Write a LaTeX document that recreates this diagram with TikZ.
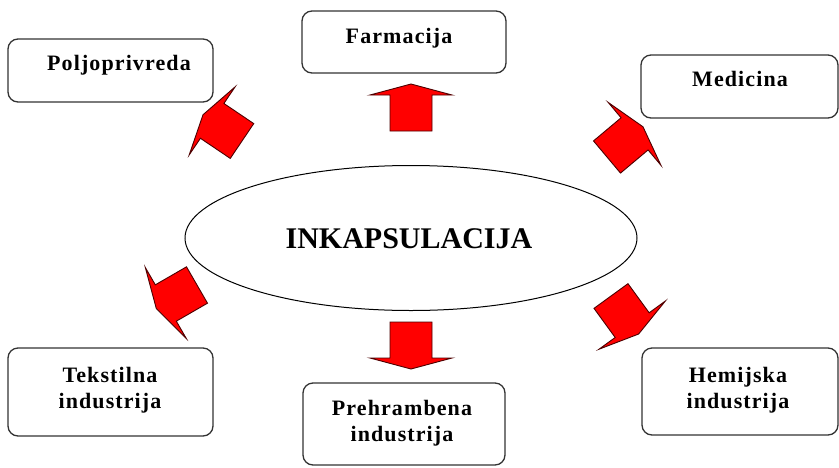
\documentclass[tikz,border=0pt]{standalone}
\usepackage{fontspec}
\setmainfont{Liberation Serif}
\usetikzlibrary{shapes.geometric}
\tikzset{
  box/.style={draw=black!80, line width=1.3pt, rounded corners=10pt, fill=white, inner sep=0pt},
  lbl/.style={font=\fontsize{22}{26}\selectfont\bfseries\addfontfeature{LetterSpace=5}, text=black, align=center, inner sep=0pt},
  arrowstyle/.style={draw=black!70!red, line width=0.9pt, fill=red, line join=miter},
  blockarrow/.pic={\draw[arrowstyle] (0,-21) -- (36,-21) -- (36,-41) -- (47,0) -- (36,41) -- (36,21) -- (0,21) -- cycle;}
}
\begin{document}
\begin{tikzpicture}[x=1pt,y=-1pt]
\useasboundingbox (0,0) rectangle (839,467);
\fill[white] (0,0) rectangle (839,467);
% central ellipse
\node[ellipse, draw=black, line width=1pt, minimum width=452pt, minimum height=145pt, inner sep=0pt] (center) at (411,238) {};
\node[font=\fontsize{30}{34}\selectfont\bfseries, inner sep=0pt] (centertext) at (409,239) {INKAPSULACIJA};
% boxes
\node[box, minimum width=205pt, minimum height=63pt] (polj) at (110.5,70.5) {};
\node[lbl] (poljt) at (119,65) {Poljoprivreda};
\node[box, minimum width=204pt, minimum height=62pt] (farm) at (404,42) {};
\node[lbl] (farmt) at (399,38) {Farmacija};
\node[box, minimum width=197pt, minimum height=63pt] (med) at (739.5,86.5) {};
\node[lbl] (medt) at (740,79) {Medicina};
\node[box, minimum width=205pt, minimum height=88pt] (teks) at (110.5,392) {};
\node[lbl] (tekst) at (110,390) {Tekstilna\\industrija};
\node[box, minimum width=202pt, minimum height=82pt] (preh) at (404,424) {};
\node[lbl] (preht) at (402,423) {Prehrambena\\industrija};
\node[box, minimum width=196pt, minimum height=87pt] (hem) at (740,391.5) {};
\node[lbl] (hemt) at (738,390) {Hemijska\\industrija};
% block arrows
\pic[rotate=90] at (411,131) {blockarrow};
\pic[rotate=-90] at (411,322) {blockarrow};
\pic[rotate=146] at (242,141) {blockarrow};
\pic[rotate=40] at (607,157) {blockarrow};
\pic[rotate=210] at (197,285) {blockarrow};
\pic[rotate=-54] at (611,296) {blockarrow};
\end{tikzpicture}
\end{document}
